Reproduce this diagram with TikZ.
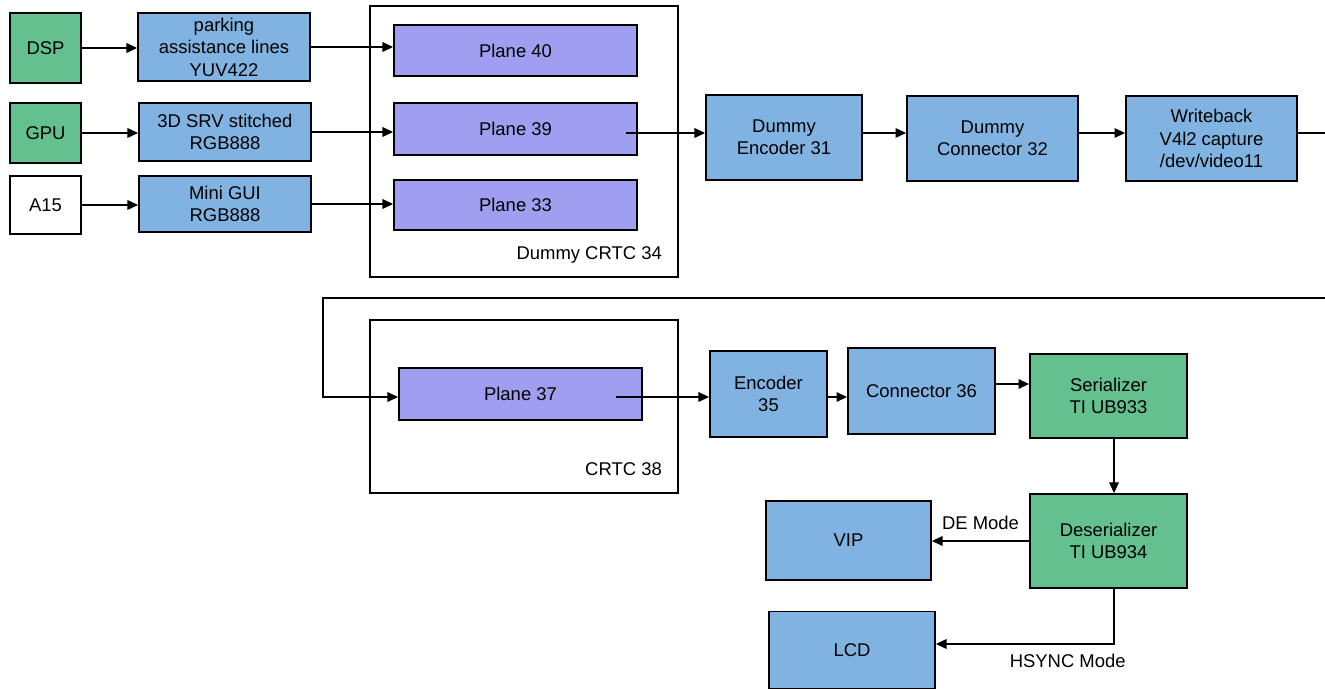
\documentclass[tikz,border=0pt]{standalone}
\usepackage{fontspec}
\setmainfont{Liberation Sans}
\usetikzlibrary{arrows.meta}
\definecolor{hwgreen}{RGB}{100,192,143}
\definecolor{swblue}{RGB}{128,179,225}
\definecolor{planeblue}{RGB}{160,158,240}
\begin{document}
\begin{tikzpicture}[font=\fontsize{10.5}{12.8}\selectfont, >={Triangle[length=6pt,width=5.5pt]},
 blk/.style={draw, line width=1.1pt, align=center, inner sep=1pt},
 hw/.style={blk, fill=hwgreen}, sw/.style={blk, fill=swblue},
 pl/.style={blk, fill=planeblue, minimum width=4.86cm},
 frame/.style={draw, line width=1.1pt}, wire/.style={line width=.6pt}]
 \useasboundingbox (0,0) rectangle (26.5,-13.78);
 % CRTC frames
 \draw[frame] (7.40,-0.12) rectangle (13.56,-5.54);
 \draw[frame] (7.40,-6.40) rectangle (13.56,-9.86);
 \node[anchor=east] (crtcA) at (13.36,-5.10) {Dummy CRTC 34};
 \node[anchor=east] (crtcB) at (13.36,-9.38) {CRTC 38};
 % sources
 \node[hw, minimum width=1.42cm, minimum height=1.40cm] (dsp) at (0.91,-0.96) {DSP};
 \node[hw, minimum width=1.42cm, minimum height=1.20cm] (gpu) at (0.91,-2.66) {GPU};
 \node[blk, minimum width=1.42cm, minimum height=1.16cm] (a15) at (0.91,-4.10) {A15};
 \node[sw, minimum width=3.44cm, minimum height=1.36cm] (park) at (4.48,-0.94) {parking\\assistance lines\\YUV422};
 \node[sw, minimum width=3.44cm, minimum height=1.16cm] (srv) at (4.50,-2.64) {3D SRV stitched\\RGB888};
 \node[sw, minimum width=3.44cm, minimum height=1.12cm] (gui) at (4.50,-4.08) {Mini GUI\\RGB888};
 % planes
 \node[pl, minimum height=1.02cm] (p40) at (10.31,-1.01) {Plane 40};
 \node[pl, minimum height=1.04cm] (p39) at (10.31,-2.58) {Plane 39};
 \node[pl, minimum height=1.00cm] (p33) at (10.31,-4.10) {Plane 33};
 \node[pl, minimum height=1.04cm] (p37) at (10.41,-7.88) {Plane 37};
 % writeback path
 \node[sw, minimum width=3.12cm, minimum height=1.70cm] (enc31) at (15.68,-2.75) {Dummy\\Encoder 31};
 \node[sw, minimum width=3.42cm, minimum height=1.70cm] (con32) at (19.85,-2.77) {Dummy\\Connector 32};
 \node[sw, minimum width=3.42cm, minimum height=1.70cm] (wb) at (24.23,-2.77) {Writeback\\V4l2 capture\\/dev/video11};
 % display path
 \node[sw, minimum width=2.34cm, minimum height=1.72cm] (enc35) at (15.37,-7.88) {Encoder\\35};
 \node[sw, minimum width=2.94cm, minimum height=1.72cm] (con36) at (18.43,-7.82) {Connector 36};
 \node[hw, minimum width=3.14cm, minimum height=1.68cm] (ser) at (22.17,-7.92) {Serializer\\TI UB933};
 \node[hw, minimum width=3.14cm, minimum height=1.88cm] (des) at (22.17,-10.82) {Deserializer\\TI UB934};
 \node[sw, minimum width=3.30cm, minimum height=1.58cm] (vip) at (16.97,-10.81) {VIP};
 \node[sw, minimum width=3.32cm, minimum height=1.54cm] (lcd) at (17.04,-13.00) {LCD};
 % wires
 \draw[wire,->] (dsp.east) -- (dsp.east -| park.west);
 \draw[wire,->] (gpu.east) -- (gpu.east -| srv.west);
 \draw[wire,->] (a15.east) -- (a15.east -| gui.west);
 \draw[wire,->] (park.east) -- (park.east -| p40.west);
 \draw[wire,->] (srv.east) -- (srv.east -| p39.west);
 \draw[wire,->] (gui.east) -- (gui.east -| p33.west);
 \coordinate (tap39) at ([xshift=-.24cm,yshift=-.08cm]p39.east);
 \coordinate (edge) at (26.7,-5.96);
 \coordinate (ret) at (6.46,-5.96);
 \draw[wire,->] (tap39) -- (tap39 -| enc31.west);
 \draw[wire,->] (tap39 -| enc31.east) -- (tap39 -| con32.west);
 \draw[wire,->] (tap39 -| con32.east) -- (tap39 -| wb.west);
 \draw[wire,->] (tap39 -| wb.east) -| (edge) -- (ret) |- ([yshift=-.06cm]p37.west);
 \coordinate (tap37) at ([xshift=-.54cm,yshift=-.06cm]p37.east);
 \draw[wire,->] (tap37) -- (tap37 -| enc35.west);
 \draw[wire,->] (tap37 -| enc35.east) -- (tap37 -| con36.west);
 \draw[wire,->] ([yshift=.14cm]con36.east) -- ([yshift=.14cm]con36.east -| ser.west);
 \draw[wire,->] ([xshift=.11cm]ser.south) -- ([xshift=.11cm]des.north);
 \draw[wire,->] (des.west) -- (des.west -| vip.east) node[pos=.5, above=3pt] (de) {DE Mode};
 \draw[wire,->] ([xshift=.11cm]des.south) |- ([yshift=.12cm]lcd.east) node[pos=.63, below=2pt] (hs) {HSYNC Mode};
\end{tikzpicture}
\end{document}
